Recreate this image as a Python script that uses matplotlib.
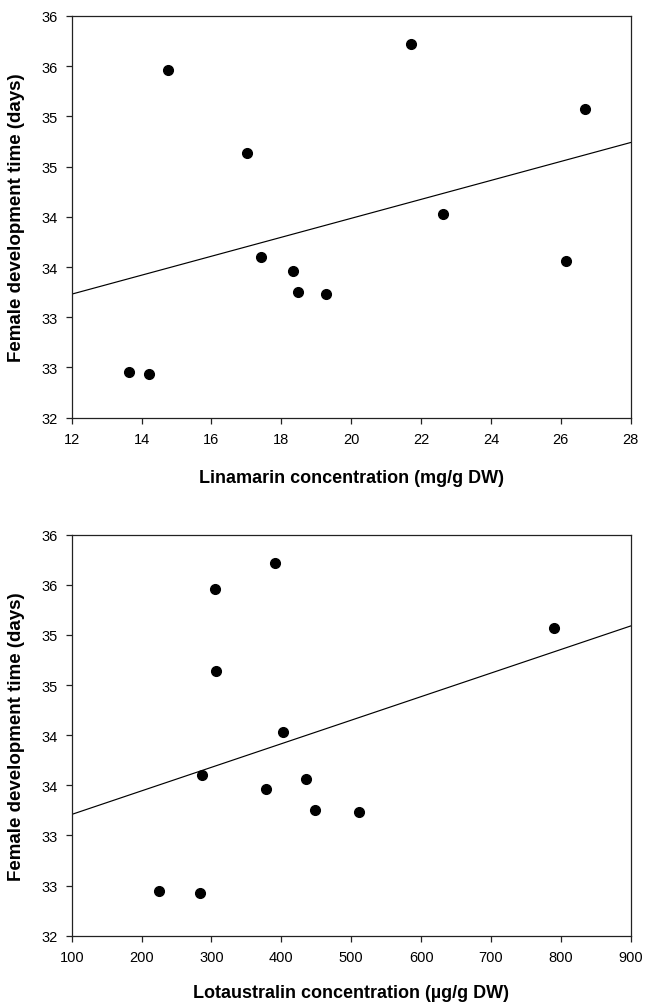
import matplotlib
matplotlib.use('Agg')
import matplotlib.pyplot as plt
import numpy as np

plt.rcParams['font.family'] = ['Liberation Sans', 'DejaVu Sans']

## data

# female development time (days), same 12 females in both panels
dev_time = [35.46, 34.64, 35.72, 34.03, 35.07, 32.45, 32.43, 33.60, 33.46, 33.25, 33.23, 33.56]

# linamarin (mg/g DW)
linamarin = [14.77, 17.01, 21.70, 22.62, 26.69, 13.65, 14.22, 17.41, 18.34, 18.49, 19.29, 26.14]
# lotaustralin (ug/g DW)
lotaustralin = [305.6, 306.8, 390.4, 402.2, 790.4, 224.3, 283.2, 286.2, 378.6, 448.7, 511.8, 434.6]

# fitted regression lines (end points)
lin_fit_x = [12, 28]
lin_fit_y = [33.23, 34.74]
lot_fit_x = [100, 900]
lot_fit_y = [33.21, 35.09]

y_ticks = [32, 32.5, 33, 33.5, 34, 34.5, 35, 35.5, 36]
y_ticklabels = ['32', '33', '33', '34', '34', '35', '35', '36', '36']

lin_ticks = [12, 14, 16, 18, 20, 22, 24, 26, 28]
lot_ticks = [100, 200, 300, 400, 500, 600, 700, 800, 900]

## plot

fig = plt.figure(figsize=(6.46, 10.04), dpi=100)
ax1 = fig.add_axes([0.111, 0.583, 0.8653, 0.4001])
ax2 = fig.add_axes([0.111, 0.067, 0.8653, 0.3994])

panels = [
    (ax1, linamarin, lin_fit_x, lin_fit_y, lin_ticks, 'Linamarin concentration (mg/g DW)', -0.128),
    (ax2, lotaustralin, lot_fit_x, lot_fit_y, lot_ticks, 'Lotaustralin concentration (\u00b5g/g DW)', -0.12),
]

for ax, xs, fx, fy, xt, xlab, xlab_y in panels:
    ax.plot(fx, fy, color='black', lw=0.85)
    ax.plot(xs, dev_time, 'o', color='black', ms=7)
    ax.set_xlim(xt[0], xt[-1])
    ax.set_ylim(32, 36)
    ax.set_xticks(xt)
    ax.set_xticklabels([str(t) for t in xt])
    ax.set_yticks(y_ticks)
    ax.set_yticklabels(y_ticklabels)
    ax.tick_params(axis='both', direction='out', length=4, width=0.9, labelsize=10.5,
                   colors='#222222', labelcolor='black')
    ax.tick_params(axis='x', pad=6.5)
    ax.tick_params(axis='y', pad=6)
    for sp in ax.spines.values():
        sp.set_linewidth(0.9)
        sp.set_color('#222222')
    ax.set_xlabel(xlab, fontsize=13, fontweight='bold')
    ax.set_ylabel('Female development time (days)', fontsize=13.5, fontweight='bold')
    ax.xaxis.set_label_coords(0.5, xlab_y)
    ax.yaxis.set_label_coords(-0.0835, 0.5)

fig.savefig('out.png', dpi=100)
